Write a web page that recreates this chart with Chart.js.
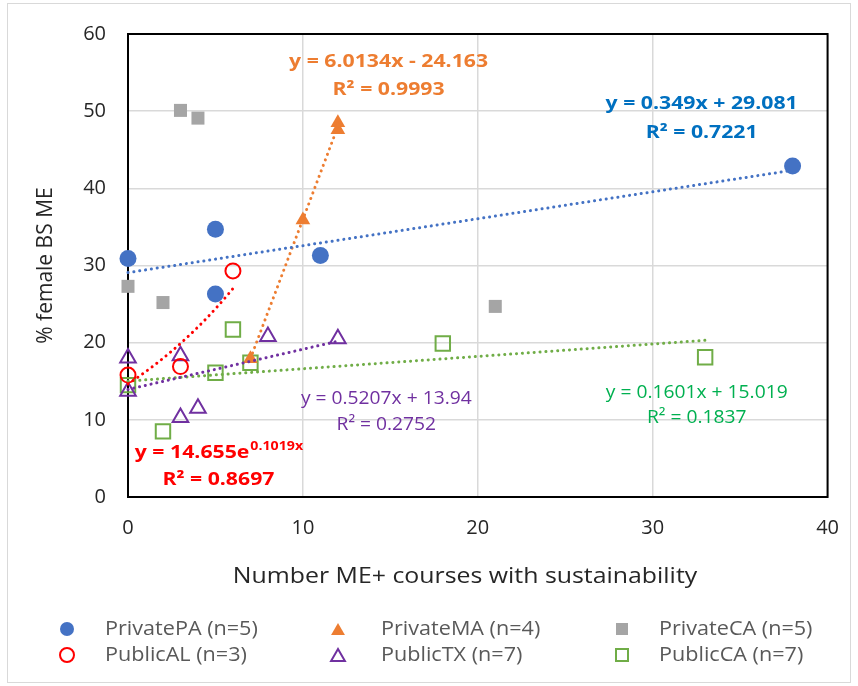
<!DOCTYPE html>
<html>
<head>
<meta charset="utf-8">
<script src="https://cdn.jsdelivr.net/npm/chart.js@4.4.1/dist/chart.umd.min.js"></script>
<style>
  html, body { margin: 0; padding: 0; background: #fff; }
  #wrap { width: 858px; height: 686px; }
</style>
</head>
<body>
<div id="wrap"><canvas id="chart" width="858" height="686"></canvas></div>
<script>
// datos
const privatePA_x = [0, 5, 5, 11, 38];
const privatePA_y = [30.9, 34.7, 26.3, 31.3, 42.9];
const privateMA_x = [7, 10, 12, 12];
const privateMA_y = [17.9, 35.9, 48.5, 47.6];
const privateCA_x = [0, 2, 3, 4, 21];
const privateCA_y = [27.3, 25.2, 50.1, 49.1, 24.7];
const publicAL_x = [0, 3, 6];
const publicAL_y = [15.8, 16.9, 29.3];
const publicTX_x = [0, 0, 3, 3, 4, 8, 12];
const publicTX_y = [18.0, 13.7, 18.3, 10.3, 11.5, 20.8, 20.5];
const publicCA_x = [0, 2, 5, 6, 7, 18, 33];
const publicCA_y = [14.5, 8.5, 16.1, 21.7, 17.4, 19.9, 18.1];

// coeficientes de las líneas de tendencia (tal como aparecen en el gráfico)
const trendPA = [0.349, 29.081];
const trendMA = [6.0134, -24.163];
const trendAL = [14.655, 0.1019]; // exponencial
const trendTX = [0.5207, 13.94];
const trendCA = [0.1601, 15.019];

const xTicks = [0, 10, 20, 30, 40];
const yTicks = [0, 10, 20, 30, 40, 50, 60];

const pts = (xs, ys) => xs.map((x, i) => ({ x: x, y: ys[i] }));

function linearTrend(xs, c) {
  const a = Math.min(...xs), b = Math.max(...xs);
  return [{ x: a, y: c[0] * a + c[1] }, { x: b, y: c[0] * b + c[1] }];
}
function expTrend(xs, c) {
  const a = Math.min(...xs), b = Math.max(...xs);
  const out = [];
  for (let i = 0; i <= 24; i++) {
    const x = a + (b - a) * i / 24;
    out.push({ x: x, y: c[0] * Math.exp(c[1] * x) });
  }
  return out;
}

const FONT = '"Open Sans", Lato, sans-serif';

const trendStyle = (color) => ({
  showLine: true, pointRadius: 0, pointHoverRadius: 0, borderColor: color,
  borderWidth: 3, borderDash: [0.1, 5.8], borderCapStyle: 'round', fill: false, clip: false
});

const datasets = [
  Object.assign({ label: 'trendPA', data: linearTrend(privatePA_x, trendPA) }, trendStyle('#4472C4')),
  Object.assign({ label: 'trendMA', data: linearTrend(privateMA_x, trendMA) }, trendStyle('#ED7D31')),
  Object.assign({ label: 'trendAL', data: expTrend(publicAL_x, trendAL) }, trendStyle('#FF0000')),
  Object.assign({ label: 'trendTX', data: linearTrend(publicTX_x, trendTX) }, trendStyle('#7030A0')),
  Object.assign({ label: 'trendCA', data: linearTrend(publicCA_x, trendCA) }, trendStyle('#70AD47')),
  { label: 'PrivatePA (n=5)', data: pts(privatePA_x, privatePA_y), pointStyle: 'circle', pointRadius: 8.5,
    backgroundColor: '#4472C4', borderColor: '#4472C4', borderWidth: 0, clip: false },
  { label: 'PrivateMA (n=4)', data: pts(privateMA_x, privateMA_y), pointStyle: 'triangle', pointRadius: 8.5,
    backgroundColor: '#ED7D31', borderColor: '#ED7D31', borderWidth: 0, clip: false },
  { label: 'PrivateCA (n=5)', data: pts(privateCA_x, privateCA_y), pointStyle: 'rect', pointRadius: 9.2,
    backgroundColor: '#A5A5A5', borderColor: '#A5A5A5', borderWidth: 0, clip: false },
  { label: 'PublicAL (n=3)', data: pts(publicAL_x, publicAL_y), pointStyle: 'circle', pointRadius: 7.5,
    backgroundColor: 'rgba(0,0,0,0)', borderColor: '#FF0000', borderWidth: 2, clip: false },
  { label: 'PublicTX (n=7)', data: pts(publicTX_x, publicTX_y), pointStyle: 'triangle', pointRadius: 9,
    backgroundColor: 'rgba(0,0,0,0)', borderColor: '#7030A0', borderWidth: 2, clip: false },
  { label: 'PublicCA (n=7)', data: pts(publicCA_x, publicCA_y), pointStyle: 'rect', pointRadius: 10.2,
    backgroundColor: 'rgba(0,0,0,0)', borderColor: '#70AD47', borderWidth: 2, clip: false }
];

// etiquetas de las ecuaciones, en coordenadas de datos
const equationLabels = [
  { x: 14.9, y: 56.4, text: 'y = 6.0134x - 24.163', color: '#ED7D31', bold: true },
  { x: 14.9, y: 52.75, text: 'R² = 0.9993', color: '#ED7D31', bold: true },
  { x: 32.8, y: 50.98, text: 'y = 0.349x + 29.081', color: '#0070C0', bold: true },
  { x: 32.8, y: 47.25, text: 'R² = 0.7221', color: '#0070C0', bold: true },
  { x: 14.77, y: 12.75, text: 'y = 0.5207x + 13.94', color: '#7030A0', bold: false },
  { x: 14.77, y: 9.4, text: 'R² = 0.2752', color: '#7030A0', bold: false },
  { x: 32.52, y: 13.52, text: 'y = 0.1601x + 15.019', color: '#00B050', bold: false },
  { x: 32.52, y: 10.3, text: 'R² = 0.1837', color: '#00B050', bold: false },
  { x: 5.17, y: 2.19, text: 'R² = 0.8697', color: '#FF0000', bold: true }
];

// el texto del original es más ancho: se estira en horizontal
function wideText(ctx, text, x, y, sx) {
  ctx.save();
  ctx.translate(x, y);
  ctx.scale(sx, 1);
  ctx.fillText(text, 0, 0);
  ctx.restore();
}

function drawMarker(ctx, style, x, y, r, fill, stroke, lw) {
  ctx.save();
  ctx.beginPath();
  if (style === 'circle') {
    ctx.arc(x, y, r, 0, Math.PI * 2);
  } else if (style === 'triangle') {
    ctx.moveTo(x, y - r);
    ctx.lineTo(x + r * 0.866, y + r * 0.5);
    ctx.lineTo(x - r * 0.866, y + r * 0.5);
    ctx.closePath();
  } else {
    ctx.rect(x - r, y - r, 2 * r, 2 * r);
  }
  if (fill) { ctx.fillStyle = fill; ctx.fill(); }
  if (stroke) { ctx.strokeStyle = stroke; ctx.lineWidth = lw; ctx.stroke(); }
  ctx.restore();
}

const extrasPlugin = {
  id: 'extras',
  beforeDraw(chart) {
    const ctx = chart.ctx;
    ctx.save();
    ctx.fillStyle = '#fff';
    ctx.fillRect(0, 0, chart.width, chart.height);
    ctx.strokeStyle = '#D9D9D9';
    ctx.lineWidth = 1;
    ctx.strokeRect(7.5, 3.5, 843, 679);
    ctx.restore();
  },
  beforeDatasetsDraw(chart) {
    // marco del área de trazado (debajo de los marcadores)
    const ctx = chart.ctx;
    const area = chart.chartArea;
    ctx.save();
    ctx.strokeStyle = '#000';
    ctx.lineWidth = 2;
    ctx.strokeRect(area.left, area.top, area.right - area.left, area.bottom - area.top);
    ctx.restore();
  },
  afterDatasetsDraw(chart) {
    const ctx = chart.ctx;
    const xs = chart.scales.x, ys = chart.scales.y;
    ctx.save();
    ctx.textAlign = 'center';
    ctx.textBaseline = 'middle';
    equationLabels.forEach(l => {
      ctx.font = (l.bold ? 'bold 18px ' : '18.5px ') + FONT;
      ctx.fillStyle = l.color;
      wideText(ctx, l.text, xs.getPixelForValue(l.x), ys.getPixelForValue(l.y), l.bold ? 1.18 : 1.04);
    });

    // ecuación exponencial con superíndice
    const cx = xs.getPixelForValue(5.17), cy = ys.getPixelForValue(5.72);
    const base = 'y = ' + trendAL[0] + 'e';
    const sup = trendAL[1] + 'x';
    const sx = 1.18;
    ctx.font = 'bold 18px ' + FONT;
    const w1 = ctx.measureText(base).width * sx;
    ctx.font = 'bold 12px ' + FONT;
    const w2 = ctx.measureText(sup).width * sx;
    const left = cx - (w1 + w2) / 2;
    ctx.textAlign = 'left';
    ctx.fillStyle = '#FF0000';
    ctx.font = 'bold 18px ' + FONT;
    wideText(ctx, base, left, cy, sx);
    ctx.font = 'bold 12px ' + FONT;
    wideText(ctx, sup, left + w1 + 1, cy - 6, sx);

    // título del eje x
    ctx.textAlign = 'center';
    ctx.font = '22px ' + FONT;
    ctx.fillStyle = '#262626';
    wideText(ctx, 'Number ME+ courses with sustainability', 465, 577, 1.13);

    // leyenda
    const cols = [67, 338, 622];
    const rows = [629, 655];
    const textOff = [38, 43, 37];
    const items = datasets.slice(5);
    const legendR = { circle: 7, triangle: 8, rect: 6 };
    ctx.font = '20px ' + FONT;
    ctx.textAlign = 'left';
    items.forEach((d, i) => {
      const col = i % 3, row = Math.floor(i / 3);
      const mx = cols[col], my = rows[row];
      const filled = d.borderWidth === 0;
      drawMarker(ctx, d.pointStyle, mx, my + (d.pointStyle === 'triangle' ? 2 : 0), legendR[d.pointStyle],
        filled ? d.backgroundColor : null, filled ? null : d.borderColor, 2);
      ctx.fillStyle = '#595959';
      wideText(ctx, d.label, mx + textOff[col], my, 1.08);
    });
    ctx.restore();
  }
};

const ctx = document.getElementById('chart').getContext('2d');
new Chart(ctx, {
  type: 'scatter',
  data: { datasets: datasets },
  plugins: [extrasPlugin],
  options: {
    responsive: false,
    animation: false,
    events: [],
    layout: { padding: { left: 29, top: 27, right: 30, bottom: 92 } },
    plugins: { legend: { display: false }, tooltip: { enabled: false } },
    scales: {
      x: {
        type: 'linear', min: 0, max: 40,
        afterBuildTicks: (s) => { s.ticks = xTicks.map(v => ({ value: v })); },
        afterFit: (s) => { s.height = 97; },
        grid: { color: '#D9D9D9', lineWidth: 1.5, drawTicks: false },
        border: { display: false },
        ticks: { padding: 19, color: '#262626', font: { family: FONT, size: 20 } },
        title: { display: false }
      },
      y: {
        type: 'linear', min: 0, max: 60,
        afterBuildTicks: (s) => { s.ticks = yTicks.map(v => ({ value: v })); },
        afterFit: (s) => { s.width = 99; },
        grid: { color: '#D9D9D9', lineWidth: 1.5, drawTicks: false },
        border: { display: false },
        ticks: { padding: 22, color: '#262626', font: { family: FONT, size: 20 } },
        title: { display: true, text: '% female BS ME', color: '#262626',
          font: { family: FONT, size: 21 } }
      }
    }
  }
});
</script>
</body>
</html>
